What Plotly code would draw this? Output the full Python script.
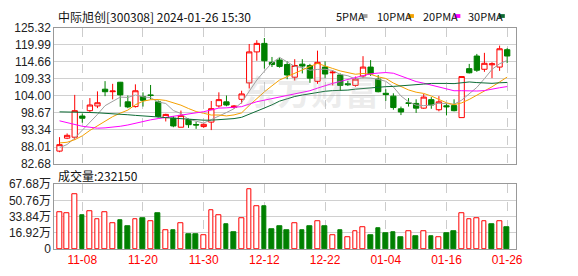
import plotly.graph_objects as go

# ---------------- data ----------------
dates = [
    "2023-11-03", "2023-11-06", "2023-11-07", "2023-11-08", "2023-11-09", "2023-11-10",
    "2023-11-13", "2023-11-14", "2023-11-15", "2023-11-16", "2023-11-17", "2023-11-20",
    "2023-11-21", "2023-11-22", "2023-11-23", "2023-11-24", "2023-11-27", "2023-11-28",
    "2023-11-29", "2023-11-30", "2023-12-01", "2023-12-04", "2023-12-05", "2023-12-06",
    "2023-12-07", "2023-12-08", "2023-12-11", "2023-12-12", "2023-12-13", "2023-12-14",
    "2023-12-15", "2023-12-18", "2023-12-19", "2023-12-20", "2023-12-21", "2023-12-22",
    "2023-12-25", "2023-12-26", "2023-12-27", "2023-12-28", "2023-12-29", "2024-01-02",
    "2024-01-03", "2024-01-04", "2024-01-05", "2024-01-08", "2024-01-09", "2024-01-10",
    "2024-01-11", "2024-01-12", "2024-01-15", "2024-01-16", "2024-01-17", "2024-01-18",
    "2024-01-19", "2024-01-22", "2024-01-23", "2024-01-24", "2024-01-25", "2024-01-26",
]

opens = [86.74, 90.78, 91.08, 97.7, 99.37, 100.85, 106.08, 105.3, 108.25, 102.13,
         100.65, 103.8, 104.3, 102.13, 97.2, 97.0, 94.2, 96.6, 95.05, 94.4,
         95.8, 100.85, 102.13, 100.35, 102.92, 108.05, 117.73, 120.39, 114.47, 115.2,
         113.78, 109.83, 113.9, 113.48, 108.55, 112.99, 111.2, 110.52, 107.8, 107.27,
         110.2, 112.99, 109.24, 104.8, 103.9, 99.96, 101.84, 101.64, 100.16, 102.82,
         99.66, 100.9, 100.95, 97.2, 112.5, 116.44, 112.3, 113.7, 112.99, 118.42]
highs = [91.1, 92.26, 104.3, 98.5, 103.3, 105.4, 108.6, 107.76, 108.35, 104.1,
         107.6, 105.1, 107.4, 102.6, 98.4, 97.7, 99.4, 96.9, 95.9, 95.4,
         102.4, 105.1, 104.1, 101.14, 105.6, 120.2, 121.38, 122.07, 116.15, 115.95,
         114.8, 115.45, 115.45, 113.98, 118.12, 114.77, 112.0, 111.0, 108.7, 110.03,
         116.4, 115.16, 110.5, 106.08, 104.8, 100.65, 103.3, 102.92, 104.6, 103.61,
         103.9, 101.7, 102.92, 110.03, 113.98, 117.1, 117.43, 114.47, 119.7, 118.91]
lows = [86.4, 90.49, 90.3, 95.6, 98.97, 100.16, 103.9, 102.9, 100.6, 100.16,
        100.35, 100.65, 102.9, 97.2, 96.0, 94.2, 94.2, 94.0, 93.7, 94.0,
        93.3, 100.35, 100.75, 99.96, 101.6, 106.3, 114.96, 112.5, 113.0, 112.8,
        109.2, 108.8, 111.0, 108.05, 107.76, 109.53, 107.27, 105.6, 107.07, 106.87,
        109.5, 110.23, 105.1, 102.43, 99.66, 97.99, 100.65, 98.68, 99.96, 99.96,
        99.17, 97.9, 99.17, 97.2, 111.0, 111.5, 111.5, 109.53, 111.8, 114.2]
closes = [88.75, 91.67, 99.37, 97.0, 101.14, 101.84, 105.29, 105.5, 104.3, 100.55,
          105.59, 102.6, 104.1, 97.59, 98.2, 94.6, 97.9, 95.0, 94.9, 95.1,
          100.0, 102.82, 101.14, 100.85, 104.6, 117.73, 120.39, 114.96, 113.78, 113.2,
          110.52, 113.48, 113.3, 109.53, 114.47, 110.82, 111.4, 107.27, 107.5, 109.24,
          112.99, 110.82, 105.29, 104.4, 100.35, 98.97, 101.64, 100.16, 103.61, 101.14,
          102.13, 100.6, 99.37, 110.03, 111.2, 112.0, 114.17, 114.0, 118.71, 116.44]

# volume in 万 (10k shares)
volumes = [38.3, 37.3, 56.8, 35.3, 39.9, 31.0, 38.0, 27.4, 30.4, 23.4,
           31.0, 32.3, 29.0, 37.3, 20.1, 19.5, 27.4, 15.5, 15.5, 14.2,
           40.9, 35.3, 26.4, 17.8, 32.0, 62.7, 44.2, 44.2, 20.5, 23.4,
           19.5, 27.1, 19.5, 23.4, 29.0, 23.4, 14.2, 19.5, 12.2, 19.1,
           23.1, 14.5, 21.5, 16.5, 17.5, 12.5, 19.1, 13.5, 18.2, 13.5,
           12.2, 16.5, 18.5, 37.0, 31.0, 32.0, 29.0, 26.4, 29.0, 23.215]

ma5 = [87.8, 88.8, 90.8, 93.2, 95.59, 98.2, 100.93, 102.15, 103.61, 103.5,
       104.25, 103.71, 103.43, 102.09, 101.62, 99.42, 98.48, 96.66, 96.12, 95.5,
       96.58, 97.56, 98.79, 99.98, 101.88, 105.43, 108.94, 111.71, 114.29, 116.01,
       114.57, 113.19, 112.86, 112.01, 112.26, 112.32, 111.9, 110.7, 110.29, 109.25,
       109.68, 109.56, 109.17, 108.55, 106.77, 103.97, 102.13, 101.1, 100.95, 101.1,
       101.74, 101.53, 101.37, 102.65, 104.67, 106.64, 109.35, 112.28, 114.02, 115.06]
ma10 = [89.3, 89.5, 90.3, 91.5, 93.2, 94.7, 96.2, 97.5, 98.6, 99.54,
        101.23, 102.32, 102.79, 102.85, 102.56, 101.83, 101.09, 100.04, 99.1, 98.56,
        98.0, 98.02, 97.73, 98.05, 98.69, 101.0, 103.25, 105.25, 107.14, 108.95,
        110.0, 111.07, 112.28, 113.15, 114.14, 113.45, 112.55, 111.78, 111.15, 110.75,
        111.0, 110.73, 109.93, 109.42, 108.01, 106.82, 105.85, 105.14, 104.75, 103.94,
        102.85, 101.83, 101.24, 101.8, 102.89, 104.19, 105.44, 106.83, 108.34, 109.87]
ma20 = [96.2, 95.6, 95.0, 94.5, 94.2, 93.9, 94.0, 94.2, 94.5, 94.9,
        95.5, 96.0, 96.5, 96.9, 97.3, 97.7, 98.0, 98.4, 98.7, 99.05,
        99.61, 100.17, 100.26, 100.45, 100.62, 101.42, 102.17, 102.65, 103.12, 103.75,
        104.0, 104.54, 105.0, 105.6, 106.41, 107.22, 107.9, 108.51, 109.14, 109.85,
        110.5, 110.9, 111.11, 111.28, 111.07, 110.13, 109.2, 108.46, 107.95, 107.35,
        106.93, 106.28, 105.59, 105.61, 105.45, 105.51, 105.64, 105.98, 106.54, 106.9]
ma30 = [99.0, 99.0, 98.9, 98.9, 98.8, 98.7, 98.6, 98.5, 98.3, 98.1,
        97.9, 97.8, 97.6, 97.4, 97.2, 97.0, 96.8, 96.6, 96.5, 96.4,
        96.4, 96.5, 96.7, 96.9, 97.3, 98.2, 99.2, 100.2, 101.2, 102.35,
        103.07, 103.8, 104.27, 104.68, 105.13, 105.43, 105.63, 105.69, 105.8, 106.09,
        106.33, 106.61, 106.65, 106.87, 106.95, 107.09, 107.22, 107.39, 107.68, 107.88,
        107.95, 107.88, 107.82, 108.12, 108.34, 108.15, 107.94, 107.91, 108.08, 108.19]

price_ticks = [82.68, 88.01, 93.34, 98.67, 104.00, 109.33, 114.66, 119.99, 125.32]
vol_ticks = [0, 16.92, 33.84, 50.76, 67.68]
label_dates = ["2023-11-08", "2023-11-20", "2023-11-30", "2023-12-12",
               "2023-12-22", "2024-01-04", "2024-01-16", "2024-01-26"]
label_text = ["11-08", "11-20", "11-30", "12-12", "12-22", "01-04", "01-16", "01-26"]

title_text = "中际旭创[300308] 2024-01-26 15:30"
ma_names = ["5PMA", "10PMA", "20PMA", "30PMA"]

# ---------------- style ----------------
W, H = 578, 276
RED = "#ff0000"
GREEN = "#008000"
MA_COLORS = ["#a0a0a0", "#f5a000", "#ff00ff", "#0b6b34"]
FONT_NUM = "Liberation Sans, Arial, sans-serif"
FONT_CJK = "Noto Sans CJK SC, sans-serif"

x_dom = [55 / W, 522 / W]
price_dom = [1 - 165.5 / H, 1 - 21.7 / H]
vol_dom = [1 - 255 / H, 1 - 186.7 / H]
x_range = [-0.685, 60.12]

fig = go.Figure()

fig.add_trace(go.Candlestick(
    x=dates, open=opens, high=highs, low=lows, close=closes,
    increasing=dict(line=dict(color=RED, width=1), fillcolor="#ffffff"),
    decreasing=dict(line=dict(color=GREEN, width=1), fillcolor=GREEN),
    whiskerwidth=0, xaxis="x", yaxis="y", showlegend=False, hoverinfo="skip",
))

for name, vals, col in zip(ma_names, [ma5, ma10, ma20, ma30], MA_COLORS):
    fig.add_trace(go.Scatter(
        x=dates, y=vals, mode="lines", name=name,
        line=dict(color=col, width=1), xaxis="x", yaxis="y",
        showlegend=False, hoverinfo="skip",
    ))

# volume colours: compare with previous close
vol_up = [True] + [closes[i] >= closes[i - 1] for i in range(1, len(closes))]
fill_cols = ["#ffffff" if u else GREEN for u in vol_up]
line_cols = [RED if u else GREEN for u in vol_up]
fig.add_trace(go.Bar(
    x=dates, y=volumes, width=0.62,
    marker=dict(color=fill_cols, line=dict(color=line_cols, width=1)),
    xaxis="x2", yaxis="y2", showlegend=False, hoverinfo="skip",
))

axis_common = dict(
    showline=True, mirror=True, linecolor="#999999", linewidth=1,
    zeroline=False, ticks="", fixedrange=True,
)

fig.update_layout(
    width=W, height=H,
    margin=dict(l=0, r=0, t=0, b=0),
    paper_bgcolor="#ffffff", plot_bgcolor="#ffffff",
    boxgap=0.2, boxgroupgap=0.125, bargap=0,
    xaxis=dict(
        domain=x_dom, anchor="y", type="category", range=x_range,
        tickvals=label_dates, showticklabels=False,
        showgrid=True, gridcolor="#cccccc", griddash="dash", gridwidth=1,
        rangeslider=dict(visible=False), **axis_common,
    ),
    yaxis=dict(
        domain=price_dom, anchor="x", range=[price_ticks[0], price_ticks[-1]],
        tickvals=price_ticks, ticktext=[f"{v:.2f}" for v in price_ticks],
        showgrid=True, gridcolor="#d0d0d0", gridwidth=1,
        tickfont=dict(family=FONT_NUM, size=12, color="#222222"),
        **axis_common,
    ),
    xaxis2=dict(
        domain=x_dom, anchor="y2", type="category", range=x_range,
        tickvals=label_dates, ticktext=label_text,
        tickfont=dict(family=FONT_NUM, size=12, color=RED),
        showgrid=True, gridcolor="#cccccc", griddash="dash", gridwidth=1,
        **axis_common,
    ),
    yaxis2=dict(
        domain=vol_dom, anchor="x2", range=[vol_ticks[0], vol_ticks[-1]],
        tickvals=vol_ticks,
        ticktext=["0"] + [f"{v:.2f}万" for v in vol_ticks[1:]],
        showgrid=True, gridcolor="#d0d0d0", gridwidth=1,
        tickfont=dict(family=FONT_NUM + ", " + FONT_CJK, size=12, color="#222222"),
        **axis_common,
    ),
)

annotations = []
shapes = []

# watermark
annotations.append(dict(
    x=315 / W, y=1 - 88 / H, xref="paper", yref="paper",
    text="<b>东方财富</b>", showarrow=False,
    font=dict(family=FONT_CJK, size=34, color="rgba(170,170,170,0.22)"),
    xanchor="center", yanchor="middle",
))

# title
annotations.append(dict(
    x=57 / W, y=1 - 9.5 / H, xref="paper", yref="paper",
    text=title_text, showarrow=False,
    font=dict(family=FONT_CJK, size=12, color="#111111"),
    xanchor="left", yanchor="middle",
))

# legend entries: text + small colour block
leg_text_x = [338, 380, 426, 472]
leg_mark_x = [366, 413, 460, 505]
for name, col, tx, mx in zip(ma_names, MA_COLORS, leg_text_x, leg_mark_x):
    annotations.append(dict(
        x=tx / W, y=1 - 9.5 / H, xref="paper", yref="paper",
        text=name, showarrow=False,
        font=dict(family=FONT_CJK, size=11, color="#111111"),
        xanchor="left", yanchor="middle",
    ))
    shapes.append(dict(
        type="rect", xref="paper", yref="paper",
        x0=mx / W, x1=(mx + 6) / W, y0=1 - 11.5 / H, y1=1 - 7.5 / H,
        fillcolor=col, line=dict(width=0),
    ))

# volume header
annotations.append(dict(
    x=57 / W, y=1 - 177.5 / H, xref="paper", yref="paper",
    text=f"成交量:{int(round(volumes[-1] * 10000))}", showarrow=False,
    font=dict(family=FONT_CJK, size=12, color="#111111"),
    xanchor="left", yanchor="middle",
))

fig.update_layout(annotations=annotations, shapes=shapes)

fig.write_html("out.html")
